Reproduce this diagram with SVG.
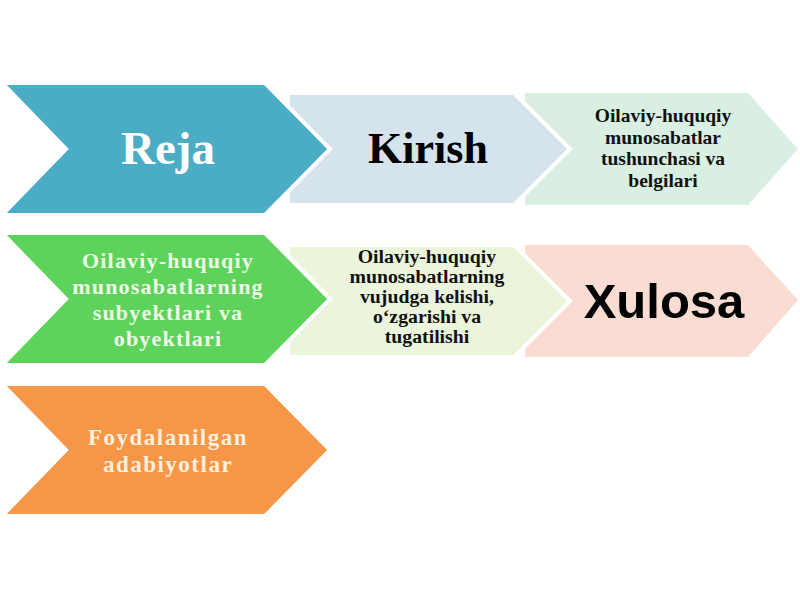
<svg xmlns="http://www.w3.org/2000/svg" width="800" height="600" viewBox="0 0 800 600">
<style>
.ser{font-family:"Liberation Serif","Times New Roman",serif;font-weight:bold;text-anchor:middle}
.san{font-family:"Liberation Sans",Arial,sans-serif;font-weight:bold;text-anchor:middle}
.front{stroke:#ffffff;stroke-width:4;stroke-linejoin:miter}
</style>
<rect width="800" height="600" fill="#ffffff"/>
<g id="connectors"></g>
<!-- row 1 -->
<g id="node-tushuncha">
<polygon points="525,93 748,93 798,149 748,205 525,205" fill="#D8EFE1"/>
<text class="ser" font-size="19.5" fill="#111111"><tspan x="663" y="122">Oilaviy-huquqiy</tspan><tspan x="663" y="143.5">munosabatlar</tspan><tspan x="663" y="165">tushunchasi va</tspan><tspan x="663" y="186.5">belgilari</tspan></text>
</g>
<g id="node-kirish">
<polygon class="front" points="288,93 514,93 570,149 514,205 288,205" fill="#D5E3EC"/>
<text class="ser" x="428" y="163" font-size="44" fill="#000000">Kirish</text>
</g>
<g id="node-reja">
<polygon class="front" points="2,83 265,83 330,149 265,215 2,215 66,149" fill="#4BACC6"/>
<text class="ser" x="168" y="164" font-size="47" fill="#ffffff">Reja</text>
</g>
<!-- row 2 -->
<g id="node-xulosa">
<polygon points="525,245 748,245 798,300 748,357 525,357" fill="#F9DDD2"/>
<text class="san" x="664" y="318" font-size="49" fill="#000000">Xulosa</text>
</g>
<g id="node-vujudga">
<polygon class="front" points="288,245 514,245 570,301 514,357 288,357" fill="#EAF5DC"/>
<text class="ser" font-size="19.8" fill="#111111"><tspan x="427" y="263">Oilaviy-huquqiy</tspan><tspan x="427" y="283">munosabatlarning</tspan><tspan x="427" y="303">vujudga kelishi,</tspan><tspan x="427" y="323">o‘zgarishi va</tspan><tspan x="427" y="343">tugatilishi</tspan></text>
</g>
<g id="node-subyekt">
<polygon class="front" points="2,233 265,233 330,299 265,365 2,365 66,299" fill="#5ED35B"/>
<text class="ser" font-size="22" fill="#EEF9E8" letter-spacing="1.2"><tspan x="168" y="268">Oilaviy-huquqiy</tspan><tspan x="168" y="294">munosabatlarning</tspan><tspan x="168" y="320">subyektlari va</tspan><tspan x="168" y="346">obyektlari</tspan></text>
</g>
<!-- row 3 -->
<g id="node-adabiyot">
<polygon class="front" points="2,384 265,384 330,450 265,516 2,516 66,450" fill="#F79646"/>
<text class="ser" font-size="23" fill="#FDF0DE" letter-spacing="1.5"><tspan x="168" y="445">Foydalanilgan</tspan><tspan x="168" y="472">adabiyotlar</tspan></text>
</g>
</svg>
